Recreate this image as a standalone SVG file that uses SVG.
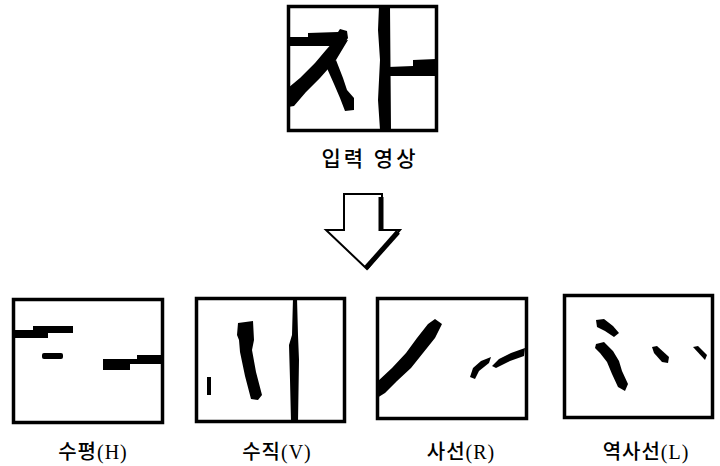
<svg xmlns="http://www.w3.org/2000/svg" width="720" height="466" viewBox="0 0 720 466">
<style>
.frame{fill:#fff;stroke:#000;stroke-width:3.5}
.ink{fill:#000;stroke:none}
.lbl{font-family:"Liberation Serif","Noto Sans CJK KR",serif;font-size:20px;font-weight:500;letter-spacing:1px;fill:#000;text-anchor:middle}
.title{font-family:"Noto Sans CJK KR","Liberation Sans",sans-serif;font-size:21px;font-weight:500;letter-spacing:3px;fill:#000;text-anchor:middle}
</style>
<rect width="720" height="466" fill="#fff"/>
<g id="input">
<rect class="frame" x="288.5" y="6.5" width="148" height="124"/>
<polygon class="ink" points="288,37 308,37 308,33 338,32 340,29 347,31 348,38 343,46 288,46"/>
<polygon class="ink" points="333,42 348,40 336,60 320,78 306,92 294,106 288,107 288,88 300,78 315,63 326,50"/>
<polygon class="ink" points="326,66 336,60 343,78 347,90 354,98 354,110 345,111 340,98 334,84"/>
<polygon class="ink" points="379,6 390,6 391,130 380,130 378,100 380,60 378,30"/>
<polygon class="ink" points="388,67 413,66 413,60 436,59 436,76 388,76"/>
<text class="title" x="370" y="166">입력 영상</text>
</g>
<g id="connectors">
<polygon points="344,194 382,194 382,230 400,230 367,269 326,230 344,230" fill="#fff" stroke="#000" stroke-width="2" stroke-linejoin="miter"/>
<line x1="381" y1="197" x2="381" y2="231" stroke="#000" stroke-width="5"/>
<line x1="398" y1="232" x2="366" y2="268" stroke="#000" stroke-width="5"/>
</g>
<g id="horizontal">
<rect class="frame" x="13.5" y="299.5" width="149" height="123"/>
<polygon class="ink" points="13,330 33,330 33,326 73,326 73,333 48,333 48,338 13,338"/>
<rect class="ink" x="42" y="353" width="21" height="6" rx="2"/>
<polygon class="ink" points="103,359 137,359 137,355 163,355 163,364 130,364 130,370 103,370"/>
<text class="lbl" x="93" y="459">수평(H)</text>
</g>
<g id="vertical">
<rect class="frame" x="196.5" y="298.5" width="148" height="123"/>
<polygon class="ink" points="293,298 297,298 298,335 299,360 298,422 291,422 290,380 289,345 292,335"/>
<polygon class="ink" points="238,323 253,321 254,340 252,350 256,372 262,395 258,400 251,399 245,376 240,352 239,340 237,335"/>
<rect class="ink" x="207" y="377" width="4" height="18"/>
<text class="lbl" x="277" y="459">수직(V)</text>
</g>
<g id="right-diagonal">
<rect class="frame" x="377.5" y="298.5" width="149" height="120"/>
<polygon class="ink" points="377,382 392,368 406,353 417,338 428,324 435,319 442,324 435,338 423,353 411,368 397,381 385,393 377,398"/>
<polygon class="ink" points="470,377 473,368 481,361 491,357 489,363 479,371 475,379"/>
<polygon class="ink" points="492,366 499,359 511,353 525,348 524,356 510,361 496,368"/>
<text class="lbl" x="461" y="459">사선(R)</text>
</g>
<g id="left-diagonal">
<rect class="frame" x="564.5" y="295.5" width="148" height="122"/>
<polygon class="ink" points="596,320 604,319 613,326 619,333 614,337 605,331 597,327"/>
<polygon class="ink" points="596,344 604,342 613,351 619,361 622,371 628,384 625,391 618,387 612,374 607,362 600,353 595,348"/>
<polygon class="ink" points="652,347 657,346 669,357 668,363 662,362 654,353"/>
<polygon class="ink" points="693,347 698,346 707,355 705,360"/>
<text class="lbl" x="646" y="459">역사선(L)</text>
</g>
</svg>
